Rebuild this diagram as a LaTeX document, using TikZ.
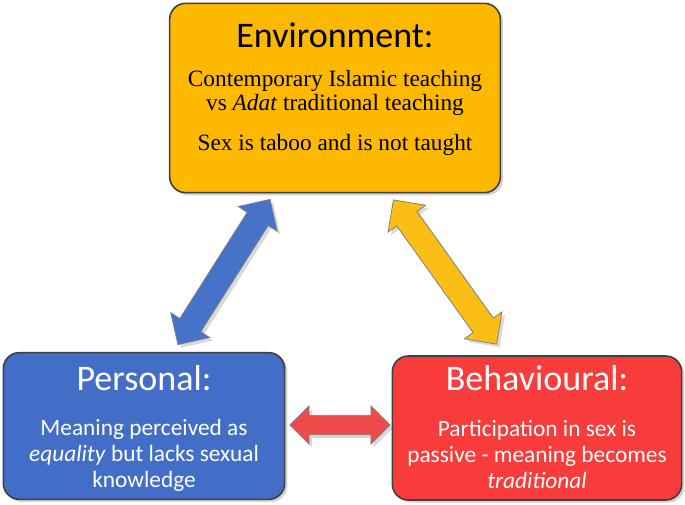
\documentclass[tikz,border=0pt]{standalone}
\usepackage{fontspec}
\setmainfont{Liberation Serif}
\newfontfamily\carfont{Carlito}
\usetikzlibrary{shapes.arrows,shadows}
\begin{document}
\begin{tikzpicture}[x=0.75pt,y=-0.75pt,
  box/.style={draw=black!75,line width=1.2pt,rounded corners=12pt,drop shadow={shadow xshift=2pt,shadow yshift=-2pt,opacity=0.35}},
  blk/.style={double arrow,draw=black!50,line width=0.6pt,double arrow head extend=8pt,inner xsep=0pt,inner ysep=9pt,drop shadow={opacity=0.3}}]
\useasboundingbox (0,0) rectangle (685,504);
\node[box,fill={rgb,255:red,252;green,185;blue,0},minimum width=248pt,minimum height=142pt] (env) at (335,98) {};
\node[font=\carfont\fontsize{27}{30}\selectfont] (envt) at (335,35) {Environment:};
\node[font=\fontsize{17.5}{19}\selectfont,align=center] (envb) at (335,93) {Contemporary Islamic teaching\\[-1pt]vs \textit{Adat} traditional teaching};
\node[font=\fontsize{17.5}{19}\selectfont] (envc) at (335,145) {Sex is taboo and is not taught};
\node[box,fill={rgb,255:red,66;green,110;blue,200},minimum width=211pt,minimum height=110pt] (per) at (144,426) {};
\node[font=\carfont\fontsize{27}{30}\selectfont,text=white] (pert) at (144,378) {Personal:};
\node[font=\carfont\fontsize{17.5}{19.5}\selectfont,text=white,align=center] (perb) at (144,455) {Meaning perceived as\\\textit{equality} but lacks sexual\\knowledge};
\node[box,fill={rgb,255:red,248;green,60;blue,60},minimum width=217pt,minimum height=108pt] (beh) at (537,428) {};
\node[font=\carfont\fontsize{27}{30}\selectfont,text=white] (beht) at (537,378) {Behavioural:};
\node[font=\carfont\fontsize{17.5}{19.5}\selectfont,text=white,align=center] (behb) at (537,455) {Participation in sex is\\passive - meaning becomes\\\textit{traditional}};
\node[blk,fill={rgb,255:red,70;green,115;blue,200},minimum height=129pt,rotate=57.6] (ab) at (224,272) {};
\node[blk,fill={rgb,255:red,250;green,190;blue,20},minimum height=133pt,rotate=-54.4] (ay) at (445,272) {};
\node[blk,fill={rgb,255:red,240;green,75;blue,75},minimum height=75pt,inner ysep=7pt,double arrow head extend=7pt] (ar) at (340,425) {};
\end{tikzpicture}
\end{document}
